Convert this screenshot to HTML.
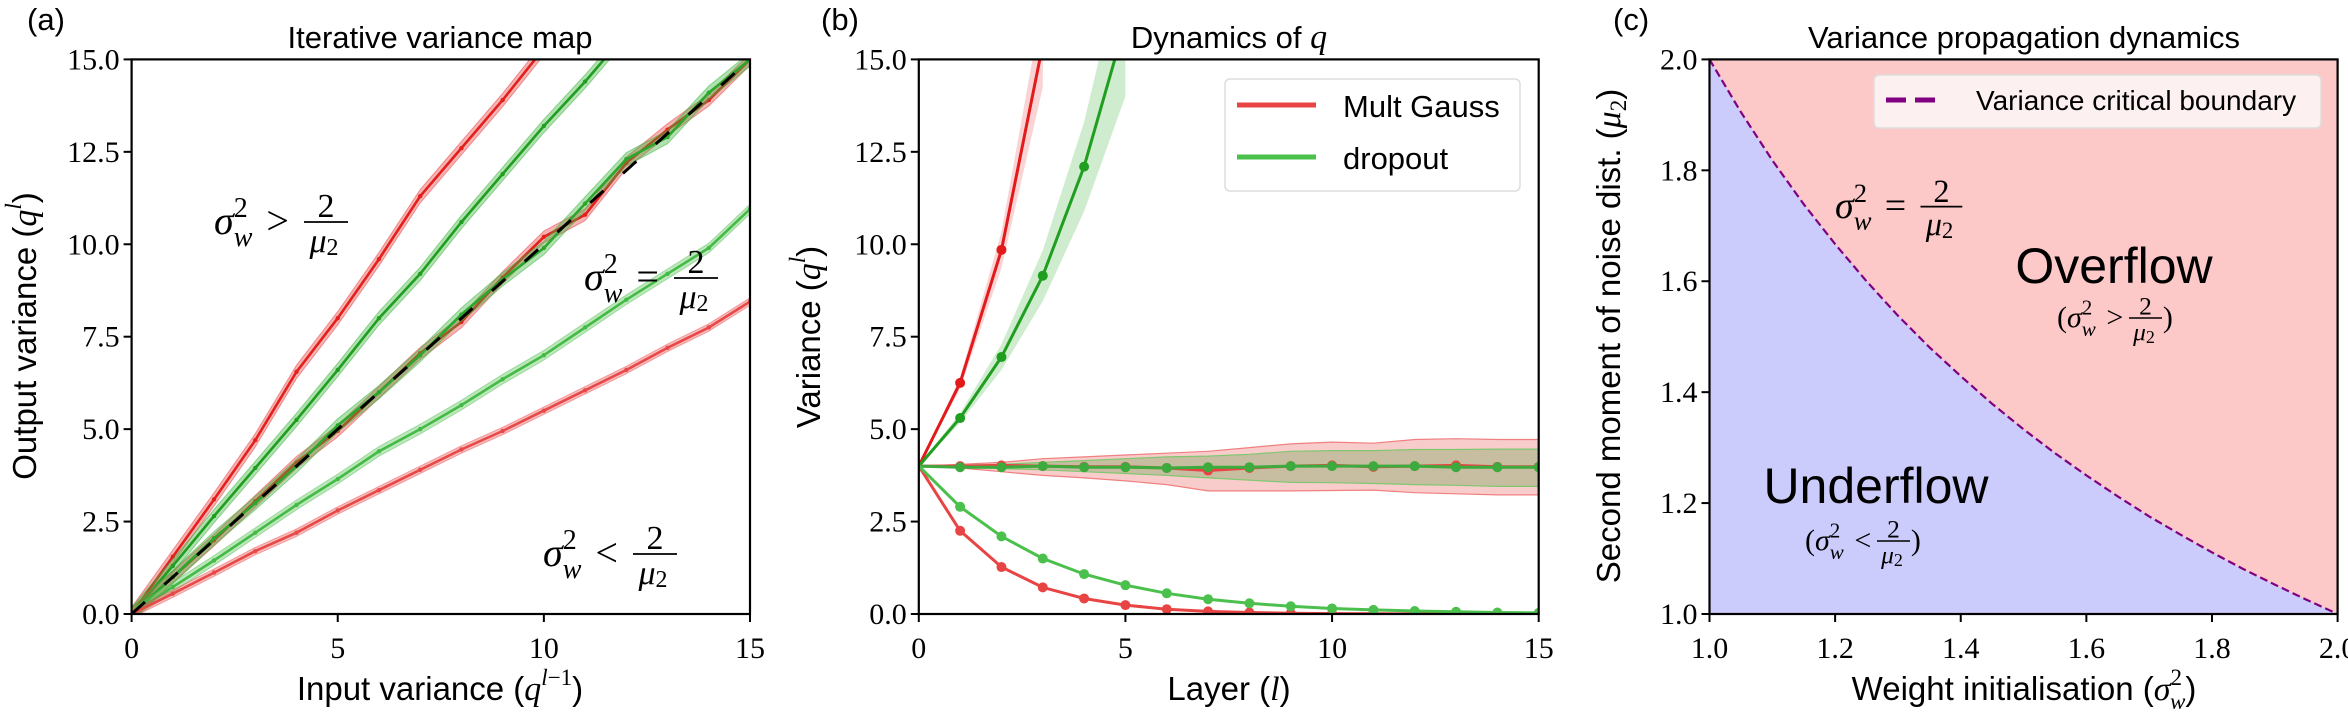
<!DOCTYPE html>
<html><head><meta charset="utf-8">
<style>
html,body{margin:0;padding:0;background:#fff;width:2348px;height:717px;overflow:hidden}
svg{display:block}
.tick{font-family:"Liberation Serif",serif;font-size:30px;fill:#000}
.lab{font-family:"Liberation Sans",sans-serif;font-size:33px;fill:#000}
.ttl{font-family:"Liberation Sans",sans-serif;font-size:31px;fill:#000}
.math{font-family:"Liberation Serif",serif;font-style:italic;fill:#000}
.rm{font-style:normal}
</style></head>
<body>
<svg id="fig" width="2348" height="717" viewBox="0 0 2348 717" xmlns="http://www.w3.org/2000/svg">
<defs>
<clipPath id="clipA"><rect x="131.6" y="59.4" width="618.4" height="554.6"/></clipPath>
<clipPath id="clipB"><rect x="918.8" y="59.4" width="619.9" height="554.6"/></clipPath>
</defs>
<g id="pa"></g>
<g id="pb"></g>
<g id="pc"></g>
</svg>
<script>
// ---------- Panel (a) data ----------
const aX = [0,1,2,3,4,5,6,7,8,9,10,11,12,13,14,15];
const aRedHigh = [0,1.55,3.1,4.7,6.55,8.0,9.6,11.3,12.6,13.9,15.3,16.8,18.4,19.9,21.4,23];
const aGreenHigh = [0,1.3,2.65,3.95,5.25,6.6,8.0,9.2,10.6,11.9,13.2,14.4,15.7,17,18.3,19.6];
const aRedMid = [0,1.0,2.0,3.05,4.1,4.95,6.0,7.05,7.9,9.1,10.2,10.8,12.2,13.1,13.9,15];
const aGreenMid = [0,1.0,2.05,3.0,4.0,5.1,6.0,7.0,8.1,9.05,9.9,11.1,12.3,12.9,14.1,15];
const aGreenLow = [0,0.73,1.45,2.2,2.95,3.65,4.4,5.0,5.65,6.35,7.0,7.75,8.5,9.2,9.9,10.95];
const aRedLow = [0,0.55,1.12,1.7,2.2,2.8,3.35,3.9,4.45,4.95,5.5,6.05,6.6,7.2,7.75,8.45];
const aTicksX = [0,5,10,15];
const aTicksY = [0,2.5,5,7.5,10,12.5,15];
const aTickLabY = ["0.0","2.5","5.0","7.5","10.0","12.5","15.0"];
// ---------- Panel (b) data ----------
const bL = [0,1,2,3,4,5,6,7,8,9,10,11,12,13,14,15];
const bRedUp = [4,6.25,9.85,15.4];
const bGreenUp = [4,5.3,6.95,9.15,12.1,16];
const bRedFlat = [4,4,4.02,4,3.98,3.98,3.95,3.88,3.95,4,4.02,3.98,4,4.02,3.98,3.98];
const bGreenFlat = [4,3.97,3.97,4,3.97,3.97,3.95,3.97,3.97,4,4,4,4,3.97,3.97,3.97];
const bRedFlatHi = [4,4.05,4.1,4.2,4.25,4.3,4.35,4.4,4.5,4.6,4.65,4.62,4.72,4.74,4.72,4.72];
const bRedFlatLo = [4,3.95,3.85,3.75,3.68,3.6,3.5,3.33,3.33,3.33,3.34,3.35,3.28,3.25,3.22,3.22];
const bGreenFlatHi = [4,4.02,4.05,4.1,4.15,4.2,4.25,4.27,4.32,4.4,4.42,4.42,4.45,4.45,4.46,4.46];
const bGreenFlatLo = [4,3.97,3.93,3.9,3.85,3.8,3.75,3.68,3.62,3.56,3.55,3.53,3.5,3.48,3.45,3.45];
const bRedDown = [4,2.25,1.27,0.72,0.42,0.24,0.13,0.07,0.04,0.02,0.01,0.006,0.003,0.002,0.001,0.0005];
const bGreenDown = [4,2.9,2.1,1.5,1.08,0.78,0.56,0.4,0.29,0.21,0.15,0.11,0.08,0.06,0.04,0.03];
const bTicksX = [0,5,10,15];
// ---------- Panel (c) data ----------
const cTicks = [1.0,1.2,1.4,1.6,1.8,2.0];
const cTickLab = ["1.0","1.2","1.4","1.6","1.8","2.0"];
const cCurveX = [1.0,1.05,1.1,1.15,1.2,1.25,1.3,1.35,1.4,1.45,1.5,1.55,1.6,1.65,1.7,1.75,1.8,1.85,1.9,1.95,2.0];
const cCurveY = [2.0,1.905,1.818,1.739,1.667,1.6,1.538,1.481,1.429,1.379,1.333,1.29,1.25,1.212,1.176,1.143,1.111,1.081,1.053,1.026,1.0];

const NS = "http://www.w3.org/2000/svg";
function mk(parent, tag, attrs, text){
  const e = document.createElementNS(NS, tag);
  for (const k in attrs) e.setAttribute(k, attrs[k]);
  if (text !== undefined) e.textContent = text;
  parent.appendChild(e);
  return e;
}
function lin(d0,d1,r0,r1){ return v => r0 + (v-d0)/(d1-d0)*(r1-r0); }
const Y0 = 614, Y1 = 59.4;

function frame(g, x0, x1){
  const r = mk(g,'rect',{x:x0,y:Y1,width:x1-x0,height:Y0-Y1,fill:'none',stroke:'#000','stroke-width':2.2});
  
  
}
function xtick(g, px, label){
  mk(g,'line',{x1:px,x2:px,y1:Y0,y2:Y0+8,stroke:'#000','stroke-width':2});
  const t = mk(g,'text',{x:px,y:Y0+44,'text-anchor':'middle','class':'tick'},label);
  
  
}
function ytick(g, x0, py, label){
  mk(g,'line',{x1:x0-8,x2:x0,y1:py,y2:py,stroke:'#000','stroke-width':2});
  const t = mk(g,'text',{x:x0-12,y:py+10,'text-anchor':'end','class':'tick'},label);
  
  
}
function pathD(xs, ys, sx, sy){
  return xs.slice(0,ys.length).map((x,i)=>(i?'L':'M')+sx(x).toFixed(1)+','+sy(ys[i]).toFixed(1)).join('');
}
function bandD(xs, hi, lo, sx, sy){
  let d = xs.map((x,i)=>(i?'L':'M')+sx(x).toFixed(1)+','+sy(hi[i]).toFixed(1)).join('');
  for (let i=xs.length-1;i>=0;i--) d += 'L'+sx(xs[i]).toFixed(1)+','+sy(lo[i]).toFixed(1);
  return d+'Z';
}
function sigmaLabel(g, x, y, size, op, paren){
  const t = mk(g,'text',{x:x,y:y,'class':'math','font-size':size});
  
  
  if (paren) mk(t,'tspan',{'class':'rm'},'(');
  mk(t,'tspan',{},'σ');
  mk(t,'tspan',{'class':'rm','font-size':size*0.7,dy:-size*0.42},'2');
  mk(t,'tspan',{'font-size':size*0.7,dx:-size*0.35,dy:size*0.72},'w');
  mk(t,'tspan',{'class':'rm',dy:-size*0.3,dx:size*0.35},op);
  return t;
}
function frac(g, x, y, size){
  const w = size*1.1;
  mk(g,'line',{x1:x-w/2,x2:x+w/2,y1:y,y2:y,stroke:'#000','stroke-width':Math.max(1.5,size/22)});
  mk(g,'text',{x:x,y:y-size*0.12,'text-anchor':'middle','class':'math rm','font-size':size*0.85},'2');
  const t = mk(g,'text',{x:x-size*0.05,y:y+size*0.75,'text-anchor':'middle','class':'math','font-size':size*0.85},'μ');
  mk(t,'tspan',{'class':'rm','font-size':size*0.6,dy:size*0.08},'2');
}
function condition(g, x, y, size, op, paren){
  sigmaLabel(g, x, y, size, op, paren);
  const fx = x + size*(paren?2.95:2.8);
  frac(g, fx, y - size*0.3, size);
  if (paren){
    mk(g,'text',{x:fx+size*0.58,y:y,'class':'math rm','font-size':size},')');
  }
}

// ---------------- Panel A ----------------
(function(){
  const g = document.getElementById('pa');
  const x0=131.6, x1=750;
  const sx = lin(0,15,x0,x1), sy = lin(0,15,Y0,Y1);
  const cg = mk(g,'g',{'clip-path':'url(#clipA)'});
  const series = [
    {y:aRedHigh,c:'#e3201c',f:'#e84040',n:'red-high-line',w:0.18},
    {y:aGreenHigh,c:'#1f9e1f',f:'#3cb43c',n:'green-high-line',w:0.18},
    {y:aRedMid,c:'#e3201c',f:'#e84040',n:'red-critical-line',w:0.16},
    {y:aGreenMid,c:'#2ca62c',f:'#3cb43c',n:'green-critical-line',w:0.18},
    {y:aGreenLow,c:'#44bb44',f:'#5cc45c',n:'green-low-line',w:0.13},
    {y:aRedLow,c:'#e84848',f:'#ec5a5a',n:'red-low-line',w:0.1}
  ];
  series.forEach(s=>{
    const hi = s.y.map(v=>v+s.w), lo = s.y.map(v=>v-s.w);
    const b = mk(cg,'path',{d:bandD(aX,hi,lo,sx,sy),fill:s.f,'fill-opacity':0.4,stroke:s.f,'stroke-opacity':0.5,'stroke-width':1});
    
    
    const p = mk(cg,'path',{d:pathD(aX,s.y,sx,sy),fill:'none',stroke:s.c,'stroke-width':2.6});
    
    
    aX.forEach((x,i)=>{ if(i>0){ const d=mk(cg,'circle',{cx:sx(x),cy:sy(s.y[i]),r:2.2,fill:s.c});  } });
  });
  const id = mk(cg,'line',{x1:sx(0),y1:sy(0),x2:sx(15),y2:sy(15),stroke:'#000','stroke-width':3,'stroke-dasharray':'18,26'});
  
  
  frame(g,x0,x1);
  aTicksX.forEach(v=>xtick(g,sx(v),String(v)));
  aTicksY.forEach((v,i)=>ytick(g,x0,sy(v),aTickLabY[i]));
  condition(g,214,234,40,'>',false);
  condition(g,584,290,40,'=',false);
  condition(g,543,566,40,'<',false);
  let t=mk(g,'text',{x:440,y:48,'text-anchor':'middle','class':'ttl'},'Iterative variance map');
   
  t=mk(g,'text',{x:27,y:30,'class':'ttl'},'(a)');
   
  t=mk(g,'text',{x:440,y:700,'text-anchor':'middle','class':'lab'},'Input variance (');
  mk(t,'tspan',{'class':'math','font-size':34},'q');
  mk(t,'tspan',{'class':'math','font-size':23,dy:-15},'l');
  mk(t,'tspan',{'class':'math rm','font-size':23},'−1');
  mk(t,'tspan',{dy:15},')');
   
  t=mk(g,'text',{x:0,y:0,'text-anchor':'middle','class':'lab',transform:'translate(36,336) rotate(-90)'},'Output variance (');
  mk(t,'tspan',{'class':'math','font-size':34},'q');
  mk(t,'tspan',{'class':'math','font-size':23,dy:-15},'l');
  mk(t,'tspan',{dy:15},')');
   
})();

// ---------------- Panel B ----------------
(function(){
  const g = document.getElementById('pb');
  const x0=918.8, x1=1538.7;
  const sx = lin(0,15,x0,x1), sy = lin(0,15,Y0,Y1);
  const cg = mk(g,'g',{'clip-path':'url(#clipB)'});
  const R='#e84444', G='#4cc04c', RG='#1f9e1f', RR='#e31a1c';
  let b = mk(cg,'path',{d:bandD(bL,bRedFlatHi,bRedFlatLo,sx,sy),fill:'#f08080','fill-opacity':0.4,stroke:'#f08080','stroke-width':1.2});
   
  b = mk(cg,'path',{d:bandD(bL,bGreenFlatHi,bGreenFlatLo,sx,sy),fill:'#6aa050','fill-opacity':0.35,stroke:'#80c870','stroke-width':1.2});
   
  const upBand = (ys,f,n)=>{ const hi=ys.map((v,i)=>v+0.025*v*i), lo=ys.map((v,i)=>v-0.025*v*i);
    const p=mk(cg,'path',{d:bandD(bL.slice(0,ys.length),hi,lo,sx,sy),fill:f,'fill-opacity':0.3,stroke:'none'});
      };
  upBand(bRedUp,'#f07070','red-overflow-band');
  upBand(bGreenUp,'#60c060','green-overflow-band');
  const lineS = [
    {y:bRedUp,c:RR,n:'red-overflow-line'},
    {y:bGreenUp,c:RG,n:'green-overflow-line'},
    {y:bRedFlat,c:R,n:'red-critical-line'},
    {y:bGreenFlat,c:'#3caa3c',n:'green-critical-line'},
    {y:bRedDown,c:R,n:'red-underflow-line'},
    {y:bGreenDown,c:G,n:'green-underflow-line'}
  ];
  lineS.forEach(s=>{
    const p=mk(cg,'path',{d:pathD(bL,s.y,sx,sy),fill:'none',stroke:s.c,'stroke-width':3});
     
    s.y.forEach((v,i)=>{ if(i>0){ const c=mk(cg,'circle',{cx:sx(bL[i]),cy:sy(v),r:5,fill:s.c});
        }});
  });
  frame(g,x0,x1);
  bTicksX.forEach(v=>xtick(g,sx(v),String(v)));
  aTicksY.forEach((v,i)=>ytick(g,x0,sy(v),aTickLabY[i]));
  const lg = mk(g,'g',{});
   
  mk(lg,'rect',{x:1225,y:79,width:295,height:112,rx:5,fill:'#fff',stroke:'#ddd','stroke-width':1.5});
  mk(lg,'line',{x1:1237,x2:1316,y1:105,y2:105,stroke:R,'stroke-width':5});
  mk(lg,'line',{x1:1237,x2:1316,y1:157,y2:157,stroke:G,'stroke-width':5});
  let t=mk(lg,'text',{x:1343,y:117,'class':'ttl'},'Mult Gauss');  
  t=mk(lg,'text',{x:1343,y:169,'class':'ttl'},'dropout');  
  t=mk(g,'text',{x:1229,y:48,'text-anchor':'middle','class':'ttl'},'Dynamics of ');
  mk(t,'tspan',{'class':'math','font-size':34},'q');
   
  t=mk(g,'text',{x:821,y:30,'class':'ttl'},'(b)');
   
  t=mk(g,'text',{x:1229,y:700,'text-anchor':'middle','class':'lab'},'Layer (');
  mk(t,'tspan',{'class':'math','font-size':34},'l');
  mk(t,'tspan',{},')');
   
  t=mk(g,'text',{x:0,y:0,'text-anchor':'middle','class':'lab',transform:'translate(820,337) rotate(-90)'},'Variance (');
  mk(t,'tspan',{'class':'math','font-size':34},'q');
  mk(t,'tspan',{'class':'math','font-size':23,dy:-15},'l');
  mk(t,'tspan',{dy:15},')');
   
})();

// ---------------- Panel C ----------------
(function(){
  const g = document.getElementById('pc');
  const x0=1709.5, x1=2337.6;
  const sx = lin(1,2,x0,x1), sy = lin(1,2,Y0,Y1);
  let r = mk(g,'rect',{x:x0,y:Y1,width:x1-x0,height:Y0-Y1,fill:'#fcc8c8'});
   
  const cd = pathD(cCurveX,cCurveY,sx,sy);
  r = mk(g,'path',{d:cd+'L'+x1+','+Y0+'L'+x0+','+Y0+'Z',fill:'#ccccfc'});
   
  r = mk(g,'path',{d:cd,fill:'none',stroke:'#800080','stroke-width':2.2,'stroke-dasharray':'8,4'});
   
  frame(g,x0,x1);
  cTicks.forEach((v,i)=>xtick(g,sx(v),cTickLab[i]));
  cTicks.forEach((v,i)=>ytick(g,x0,sy(v),cTickLab[i]));
  const lg = mk(g,'g',{});
   
  mk(lg,'rect',{x:1874,y:75,width:447,height:53,rx:5,fill:'#fdf0f0',stroke:'#ddd','stroke-width':1.5});
  mk(lg,'line',{x1:1886,x2:1943,y1:100,y2:100,stroke:'#800080','stroke-width':5,'stroke-dasharray':'20,9'});
  let t=mk(lg,'text',{x:1976,y:110,'class':'ttl'},'Variance critical boundary');
  t.style.fontSize='28px';
   
  condition(g,1835,218,38,'=',false);
  t=mk(g,'text',{x:2114,y:283,'text-anchor':'middle','class':'ttl'},'Overflow');
  t.style.fontSize='50px';
   
  condition(g,2057,327,30,'>',true);
  t=mk(g,'text',{x:1876,y:503,'text-anchor':'middle','class':'ttl'},'Underflow');
  t.style.fontSize='50px';
   
  condition(g,1805,550,30,'<',true);
  t=mk(g,'text',{x:2024,y:48,'text-anchor':'middle','class':'ttl'},'Variance propagation dynamics');
   
  t=mk(g,'text',{x:1613,y:30,'class':'ttl'},'(c)');
   
  t=mk(g,'text',{x:2024,y:700,'text-anchor':'middle','class':'lab'},'Weight initialisation (');
  mk(t,'tspan',{'class':'math','font-size':34},'σ');
  mk(t,'tspan',{'class':'math rm','font-size':23,dy:-15},'2');
  mk(t,'tspan',{'class':'math','font-size':23,dx:-12,dy:24},'w');
  mk(t,'tspan',{dy:-9},')');
   
  t=mk(g,'text',{x:0,y:0,'text-anchor':'middle','class':'lab',transform:'translate(1620,336) rotate(-90)'},'Second moment of noise dist.  (');
  mk(t,'tspan',{'class':'math','font-size':34},'μ');
  mk(t,'tspan',{'class':'math rm','font-size':23,dy:6},'2');
  mk(t,'tspan',{dy:-6},')');
   
})();
</script>
</body></html>
